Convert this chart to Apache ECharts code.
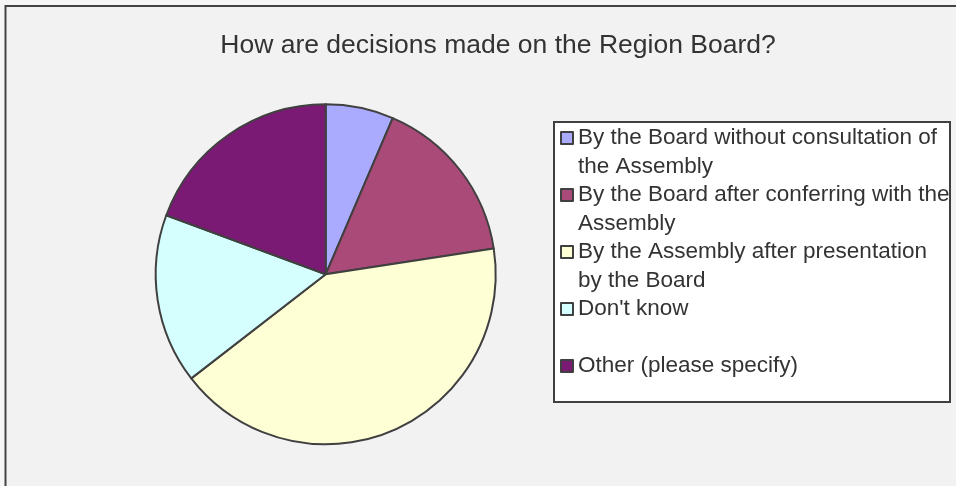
<!DOCTYPE html>
<html>
<head>
<meta charset="utf-8">
<script src="https://cdn.jsdelivr.net/npm/echarts@6/dist/echarts.min.js"></script>
<style>
  html, body { margin: 0; padding: 0; background: #f6f6f6; }
  #chart { width: 956px; height: 486px; }
</style>
</head>
<body>
<div id="chart"></div>
<script>
var titleText = 'How are decisions made on the Region Board?';
var categories = [
  'By the Board without consultation of the Assembly',
  'By the Board after conferring with the Assembly',
  'By the Assembly after presentation by the Board',
  "Don't know",
  'Other (please specify)'
];
var legendLines = [
  'By the Board without consultation of\nthe Assembly',
  'By the Board after conferring with the\nAssembly',
  'By the Assembly after presentation\nby the Board',
  "Don't know\n ",
  'Other (please specify)\n '
];
var values = [4, 10, 26, 10, 12];
var colors = ['#aaaaff', '#aa4a78', '#ffffd5', '#d5ffff', '#7a1a74'];

var chart = echarts.init(document.getElementById('chart'), null, { renderer: 'canvas' });

var pieData = categories.map(function (c, i) {
  return { name: c, value: values[i], itemStyle: { color: colors[i] } };
});

chart.setOption({
  animation: false,
  backgroundColor: '#f6f6f6',
  graphic: [
    {
      type: 'rect', z: 0, silent: true,
      shape: { x: 5.5, y: 6, width: 1000, height: 1000 },
      style: { fill: '#f2f2f2', stroke: '#444444', lineWidth: 2 }
    },
    {
      type: 'rect', z: 0, silent: true,
      shape: { x: 554, y: 122, width: 396, height: 280 },
      style: { fill: '#ffffff', stroke: '#404040', lineWidth: 2 }
    }
  ],
  title: {
    text: titleText,
    left: 498,
    top: 33,
    textAlign: 'center',
    padding: 0,
    textStyle: {
      fontFamily: 'Liberation Sans, Arial, sans-serif',
      fontSize: 26.5,
      fontWeight: 'normal',
      color: '#333333',
      lineHeight: 26
    }
  },
  legend: {
    orient: 'vertical',
    left: 560,
    top: 95.25,
    padding: 0,
    itemGap: -28.5,
    itemWidth: 12,
    itemHeight: 12,
    icon: 'rect',
    selectedMode: false,
    itemStyle: { borderColor: '#404040', borderWidth: 2 },
    formatter: function (name) {
      return ' \n' + legendLines[categories.indexOf(name)];
    },
    textStyle: {
      fontFamily: 'Liberation Sans, Arial, sans-serif',
      fontSize: 22.5,
      color: '#333333',
      lineHeight: 28.5
    },
    data: categories
  },
  series: [{
    type: 'pie',
    center: [325.7, 274.3],
    radius: 170,
    startAngle: 90,
    clockwise: true,
    label: { show: false },
    labelLine: { show: false },
    emphasis: { disabled: true },
    itemStyle: { borderColor: '#404040', borderWidth: 2 },
    data: pieData
  }]
});
</script>
</body>
</html>
